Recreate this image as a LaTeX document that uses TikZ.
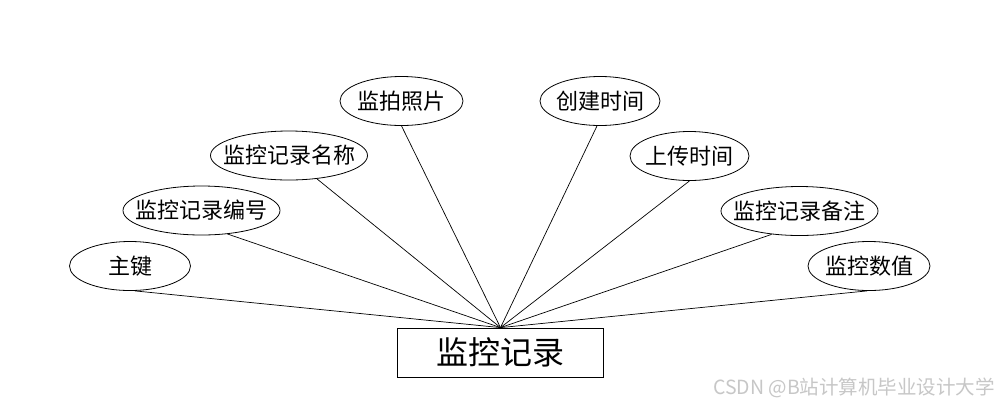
\documentclass[tikz,border=0pt]{standalone}
\usepackage{fontspec}
\setmainfont{Noto Sans CJK SC}
\usetikzlibrary{shapes.geometric}
\tikzset{
  attr/.style={draw=black, line width=0.8pt, ellipse, inner sep=0pt, minimum height=49pt, font=\fontsize{22}{22}\selectfont},
  entity/.style={draw=black, line width=0.8pt, rectangle, inner sep=0pt, minimum width=206pt, minimum height=49pt, font=\fontsize{32}{32}\selectfont},
  link/.style={draw=black, line width=0.7pt},
}
\newcommand{\zw}[1]{\makebox[0pt]{#1}}
\begin{document}
\begin{tikzpicture}[x=1pt, y=-1pt]
\useasboundingbox[fill=white] (0,0) rectangle (1000,408);
\node[entity] (box) at (500.5,352.5) {监控记录};
\node[attr, minimum width=121pt] (a1) at (130,266) {\zw{主键}};
\node[attr, minimum width=157pt] (a2) at (201.5,210.5) {\zw{监控记录编号}};
\node[attr, minimum width=157pt] (a3) at (289,155.5) {\zw{监控记录名称}};
\node[attr, minimum width=123pt] (a4) at (401.5,101) {\zw{监拍照片}};
\node[attr, minimum width=120pt] (a5) at (600,101) {\zw{创建时间}};
\node[attr, minimum width=119pt] (a6) at (689.5,156) {\zw{上传时间}};
\node[attr, minimum width=157pt] (a7) at (799.5,211) {\zw{监控记录备注}};
\node[attr, minimum width=122pt] (a8) at (869,266) {\zw{监控数值}};
\coordinate (top) at (box.north);
\draw[link] ([xshift=5pt]a1.south) -- (top);
\draw[link] ([xshift=26pt,yshift=1.4pt]a2.south) -- (top);
\draw[link] ([xshift=28pt,yshift=1.5pt]a3.south) -- (top);
\draw[link] ([xshift=0pt]a4.south) -- (top);
\draw[link] ([xshift=-3pt]a5.south) -- (top);
\draw[link] ([xshift=0pt]a6.south) -- (top);
\draw[link] ([xshift=-28pt,yshift=1.5pt]a7.south) -- (top);
\draw[link] ([xshift=-2pt]a8.south) -- (top);
\node[anchor=east, text=black!22, inner sep=0pt, font=\fontsize{19.5}{19.5}\selectfont] (wm) at (995,388) {CSDN @B站计算机毕业设计大学};
\end{tikzpicture}
\end{document}
